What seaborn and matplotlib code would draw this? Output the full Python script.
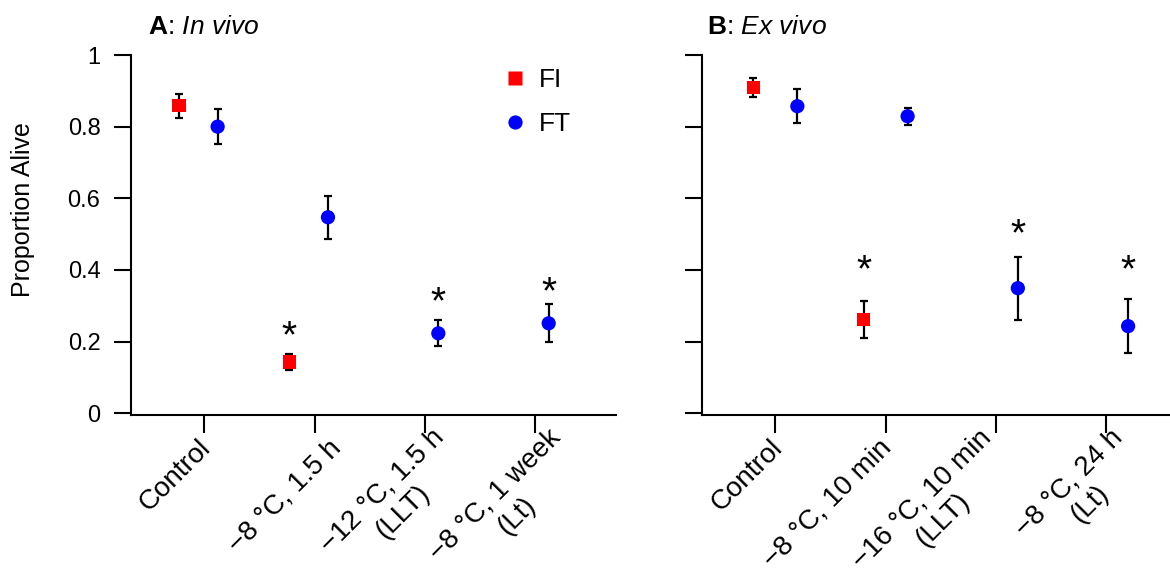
import numpy as np
import pandas as pd
import matplotlib
matplotlib.use("Agg")
import matplotlib.pyplot as plt
import seaborn as sns

# ---------------- data ----------------
cats_a = ["Control", "\u22128 \u00b0C, 1.5 h", "\u221212 \u00b0C, 1.5 h\n(LLT)", "\u22128 \u00b0C, 1 week\n(Lt)"]
cats_b = ["Control", "\u22128 \u00b0C, 10 min", "\u221216 \u00b0C, 10 min\n(LLT)", "\u22128 \u00b0C, 24 h\n(Lt)"]

# panel A (in vivo)
a_fi_group = [0, 1]
a_fi_mean = [0.858, 0.143]
a_fi_err = [0.033, 0.022]
a_ft_group = [0, 1, 2, 3]
a_ft_mean = [0.800, 0.547, 0.223, 0.251]
a_ft_err = [0.048, 0.060, 0.036, 0.053]
a_star_group = [1, 2, 3]
a_star_series = ["FI", "FT", "FT"]
a_star_y = [0.237, 0.332, 0.360]

# panel B (ex vivo)
b_fi_group = [0, 1]
b_fi_mean = [0.909, 0.262]
b_fi_err = [0.026, 0.052]
b_ft_group = [0, 1, 2, 3]
b_ft_mean = [0.857, 0.829, 0.349, 0.243]
b_ft_err = [0.048, 0.024, 0.088, 0.075]
b_star_group = [1, 2, 3]
b_star_series = ["FI", "FT", "FT"]
b_star_y = [0.423, 0.522, 0.423]

yticks = [0, 0.2, 0.4, 0.6, 0.8, 1.0]
ytick_labels = ["0", "0.2", "0.4", "0.6", "0.8", "1"]

# ---------------- style ----------------
sns.set_style("ticks")
plt.rcParams["font.family"] = ["Liberation Sans", "DejaVu Sans"]
plt.rcParams["mathtext.fontset"] = "custom"
plt.rcParams["mathtext.rm"] = "Liberation Sans"
plt.rcParams["mathtext.it"] = "Liberation Sans:italic"
plt.rcParams["mathtext.bf"] = "Liberation Sans:bold"
plt.rcParams["text.color"] = "black"
plt.rcParams["axes.labelcolor"] = "black"
plt.rcParams["xtick.color"] = "black"
plt.rcParams["ytick.color"] = "black"

colors = {"FI": "#ff0000", "FT": "#0000ff"}
markers = {"FI": "s", "FT": "o"}
sizes = {"FI": 90, "FT": 105}

FS_YTICK = 17
FS_XTICK = 20
FS_LAB = 18
FS_TITLE = 19
FS_LEG = 19
FS_STAR = 28
XTICK_LEN = 13
XTICK_PAD = 8

# horizontal nudges of the rotated tick labels (pixels), as in the reference layout
nudge_a = [2, 22, 25, 32]
nudge_b = [3, 2, 2, 23]


def build(fi_g, fi_m, fi_e, ft_g, ft_m, ft_e, off):
    rows = []
    for g, m, e in zip(fi_g, fi_m, fi_e):
        rows.append(dict(group=g, series="FI", mean=m, err=e, x=g + off["FI"]))
    for g, m, e in zip(ft_g, ft_m, ft_e):
        rows.append(dict(group=g, series="FT", mean=m, err=e, x=g + off["FT"]))
    return pd.DataFrame(rows)


off_a = {"FI": -0.23, "FT": 0.12}
off_b = {"FI": -0.20, "FT": 0.20}
df_a = build(a_fi_group, a_fi_mean, a_fi_err, a_ft_group, a_ft_mean, a_ft_err, off_a)
df_b = build(b_fi_group, b_fi_mean, b_fi_err, b_ft_group, b_ft_mean, b_ft_err, off_b)

fig = plt.figure(figsize=(11.7, 5.71), dpi=100)
W, H = 1170, 571
ax_a = fig.add_axes([131 / W, 1 - 415 / H, (616 - 131) / W, 360 / H])
ax_b = fig.add_axes([702 / W, 1 - 415 / H, (1170 - 702) / W, 360 / H])


def draw(ax, df, cats, star_g, star_s, star_y, off, legend, xmax, nudge):
    for s in ["FI", "FT"]:
        sub = df[df.series == s]
        ax.errorbar(sub.x, sub["mean"], yerr=sub.err, fmt="none", ecolor="black",
                    elinewidth=1.6, capsize=3, capthick=1.6, zorder=2)
    sns.scatterplot(data=df, x="x", y="mean", hue="series", style="series",
                    palette=colors, markers=markers, size="series", sizes=sizes,
                    edgecolor="none", ax=ax, zorder=3, legend=legend)
    for g, s, y in zip(star_g, star_s, star_y):
        ax.annotate("*", xy=(g + off[s], y), xytext=(0, -0.5 * FS_STAR),
                    textcoords="offset points", ha="center", va="baseline",
                    fontsize=FS_STAR, color="black")
    ax.set_xlim(-0.665, xmax)
    ax.set_ylim(-0.005, 1.0)
    ax.set_xticks(range(len(cats)))
    ax.set_xticklabels([""] * len(cats))
    # rotated category labels placed under each tick
    for i, (lab, dx) in enumerate(zip(cats, nudge)):
        ax.annotate(lab, xy=(i, 0), xycoords=ax.get_xaxis_transform(),
                    xytext=(dx * 0.72, -(XTICK_LEN + XTICK_PAD)),
                    textcoords="offset points", rotation=45, ha="right",
                    va="center", rotation_mode="anchor",
                    multialignment="center", fontsize=FS_XTICK,
                    annotation_clip=False)
    ax.set_yticks(yticks)
    ax.set_xlabel("")
    ax.set_ylabel("")
    ax.tick_params(axis="y", direction="out", length=12, width=1.5, pad=10,
                   labelsize=FS_YTICK, color="black")
    ax.tick_params(axis="x", direction="out", length=XTICK_LEN, width=1.5,
                   pad=XTICK_PAD, color="black")
    for sp in ["top", "right"]:
        ax.spines[sp].set_visible(False)
    for sp in ["left", "bottom"]:
        ax.spines[sp].set_linewidth(1.5)
        ax.spines[sp].set_color("black")


draw(ax_a, df_a, cats_a, a_star_group, a_star_series, a_star_y, off_a, "brief", 3.73, nudge_a)
draw(ax_b, df_b, cats_b, b_star_group, b_star_series, b_star_y, off_b, False, 3.58, nudge_b)

ax_a.set_yticklabels(ytick_labels)
ax_b.set_yticklabels([])
ax_a.set_ylabel("Proportion Alive", fontsize=FS_LAB, va="center")
ax_a.yaxis.set_label_coords(-0.223, 0.572)

sns.move_legend(ax_a, loc="upper left", bbox_to_anchor=(0.715, 1.029),
                frameon=False, title=None, fontsize=FS_LEG,
                labelspacing=0.75, handletextpad=0.4, handlelength=1.0,
                markerscale=1.0)

fig.text(148 / W, 1 - 34 / H, r"$\mathbf{A}$: $\mathit{In\ vivo}$", fontsize=FS_TITLE,
         ha="left", va="baseline")
fig.text(707 / W, 1 - 34 / H, r"$\mathbf{B}$: $\mathit{Ex\ vivo}$", fontsize=FS_TITLE,
         ha="left", va="baseline")

fig.savefig("out.png", dpi=100)
